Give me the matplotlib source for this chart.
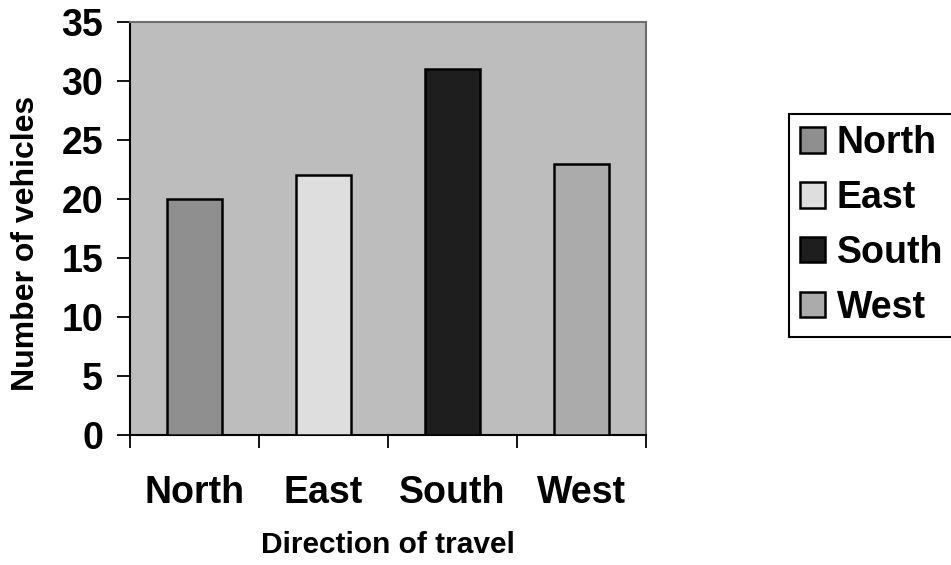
import numpy as np
import matplotlib
matplotlib.use("Agg")
import matplotlib.pyplot as plt

plt.rcParams['font.family'] = ['Liberation Sans', 'DejaVu Sans']
plt.rcParams['font.weight'] = 'bold'

# data
directions = ['North', 'East', 'South', 'West']
vehicles = [20, 22, 31, 23]
bar_colors = ['#8f8f8f', '#dedede', '#1e1e1e', '#ababab']
y_ticks = [0, 5, 10, 15, 20, 25, 30, 35]

W, H = 951, 565
fig = plt.figure(figsize=(W / 100, H / 100), dpi=100)
fig.patch.set_facecolor('white')

# plot area in pixels: left 130, right 646, top 22, bottom 435
ax = fig.add_axes([130 / W, 1 - 435 / H, (646 - 130) / W, (435 - 22) / H])
ax.set_facecolor('#bdbdbd')

x = np.arange(len(directions))
bars = ax.bar(x, vehicles, width=0.43, color=bar_colors, edgecolor='black',
              linewidth=1.8, label=directions, zorder=3)

ax.set_xlim(-0.5, len(directions) - 0.5)
ax.set_ylim(0, 35)

# y axis
ax.set_yticks(y_ticks)
ax.set_yticklabels([str(v) for v in y_ticks], fontsize=27, fontweight='bold')
ax.tick_params(axis='y', direction='out', length=9.5, width=1.3, pad=10)

# x axis: tick marks between categories, labels at centres
ax.set_xticks(x)
ax.set_xticklabels(directions, fontsize=27, fontweight='bold')
ax.set_xticks(np.arange(-0.5, len(directions)), minor=True)
ax.tick_params(axis='x', which='major', length=0, pad=29)
ax.tick_params(axis='x', which='minor', direction='out', length=9, width=1.3)

for side in ['left', 'bottom']:
    ax.spines[side].set_linewidth(1.5)
    ax.spines[side].set_color('black')
for side in ['top', 'right']:
    ax.spines[side].set_linewidth(1.5)
    ax.spines[side].set_color('#6e6e6e')

ax.set_xlabel('Direction of travel', fontsize=21.5, fontweight='bold', labelpad=14)
ax.set_ylabel('Number of vehicles', fontsize=23, fontweight='bold')
ax.yaxis.set_label_coords((41 - 130) / (646 - 130), (435 - 243) / (435 - 22))

leg = fig.legend(handles=bars.patches, labels=directions, loc='upper left',
                 bbox_to_anchor=(789 / W, 1 - 114 / H), frameon=True,
                 fancybox=False, shadow=False, framealpha=1,
                 prop={'size': 27, 'weight': 'bold'},
                 handlelength=0.67, handleheight=0.67, handletextpad=0.3,
                 labelspacing=0.5, borderpad=0.3, borderaxespad=0)
leg.get_frame().set_edgecolor('black')
leg.get_frame().set_linewidth(1.5)

fig.savefig('out.png', dpi=100)
